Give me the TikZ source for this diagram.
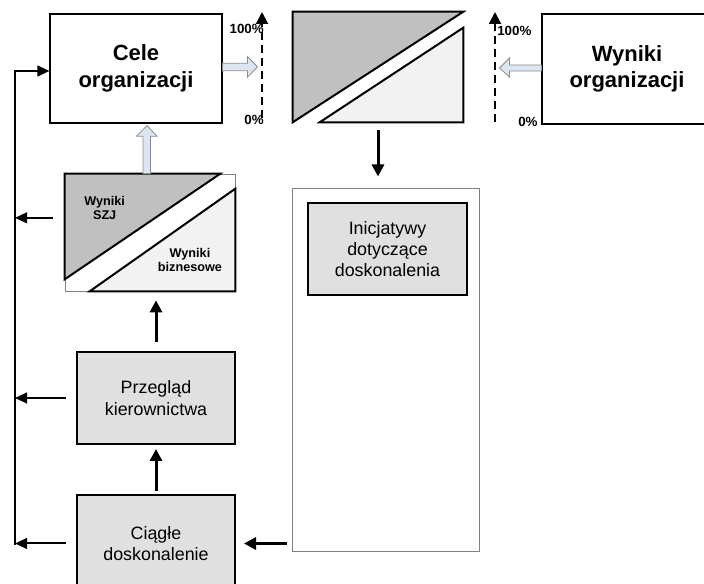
\documentclass[tikz,border=0pt]{standalone}
\usepackage{fontspec}
\setmainfont{Liberation Sans}
\usetikzlibrary{arrows.meta}
\definecolor{boxgray}{HTML}{E0E0E0}
\definecolor{darktri}{HTML}{C0C0C0}
\definecolor{lighttri}{HTML}{F2F2F2}
\definecolor{hollowfill}{HTML}{DCE6F2}
\definecolor{hollowdraw}{HTML}{8C8C8C}

\begin{document}
\begin{tikzpicture}[x=0.75pt,y=-0.75pt,
  >={Triangle[length=9pt,width=9pt]},
  goal/.style={draw,line width=0.8pt,align=center,inner sep=0pt,
    font=\fontsize{16.5}{20}\selectfont\bfseries},
  gbox/.style={draw,line width=1.5pt,fill=boxgray,align=center,inner sep=0pt,
    font=\fontsize{13.4}{16}\selectfont},
  small/.style={align=center,inner sep=0pt,font=\fontsize{9.5}{11}\selectfont\bfseries},
  pct/.style={inner sep=0pt,font=\fontsize{10}{12}\selectfont\bfseries},
  tri/.style={draw,line width=1.5pt},
  heavy/.style={->,line width=2.25pt},
  fb/.style={->,line width=1.5pt,>={Triangle[length=9pt,width=8pt]}},
  hollow/.style={draw=hollowdraw,fill=hollowfill,line width=0.6pt},
  axis/.style={->,line width=1.5pt,dash pattern=on 6pt off 3.75pt}]
\useasboundingbox (0,0) rectangle (704,584);
\clip (0,0) rectangle (704,584);
% boxes
\node[goal,minimum width=129pt,minimum height=81.75pt] (cele) at (136,68.5) {Cele\\organizacji};
\node[goal,minimum width=127.5pt,minimum height=82.5pt] (wynorg) at (627,69) {Wyniki\\organizacji};
\node[inner sep=0pt,minimum width=127.5pt,minimum height=82.5pt] (cmp) at (378,67) {};
\node[draw=gray,line width=0.5pt,inner sep=0pt,minimum width=127.5pt,minimum height=87.75pt] (szj) at (150,232.5) {};
\node[gbox,minimum width=118.5pt,minimum height=69pt] (przeglad) at (156,398) {Przegląd\\kierownictwa};
\node[gbox,minimum width=118.5pt,minimum height=72.75pt] (ciagle) at (156,543.5) {Ciągłe\\doskonalenie};
\node[draw=gray,line width=0.75pt,inner sep=0pt,minimum width=140.25pt,minimum height=272.25pt] (ramka) at (385.5,370.5) {};
\node[gbox,minimum width=119.25pt,minimum height=69pt] (inicj) at (387.5,249) {Inicjatywy\\dotyczące\\doskonalenia};
% split rectangles
\draw[tri,fill=darktri] (cmp.north west) -- (cmp.north east) -- (cmp.south west) -- cycle;
\draw[tri,fill=lighttri] ([xshift=20.25pt]cmp.south west) -- (cmp.south east) -- ([yshift=-12pt]cmp.north east) -- cycle;
\draw[tri,fill=darktri] (szj.north west) -- ([xshift=-11.25pt]szj.north east) -- ([yshift=9pt]szj.south west) -- cycle;
\draw[tri,fill=lighttri] ([xshift=18.75pt]szj.south west) -- (szj.south east) -- ([yshift=-11.25pt]szj.north east) -- cycle;
\node[small] (tszj) at ([xshift=-34pt,yshift=18.4pt]szj.center) {Wyniki\\SZJ};
\node[small] (tbiz) at ([xshift=30pt,yshift=-20.6pt]szj.center) {Wyniki\\biznesowe};
% scales
\coordinate (l0) at (262,118);
\coordinate (l1) at (262,12);
\coordinate (r0) at (495,122);
\coordinate (r1) at (495,12);
\draw[axis] (l0) -- (l1);
\draw[axis] (r0) -- (r1);
\node[pct,anchor=east] (p100l) at (264,29) {100\%};
\node[pct,anchor=east] (p0l) at (264,119.5) {0\%};
\node[pct,anchor=west] (p100r) at (497,31) {100\%};
\node[pct,anchor=west] (p0r) at (518,121.5) {0\%};
% hollow arrows
\draw[hollow] ([yshift=4pt]cele.east) -- ++(25,0) -- ++(0,-6.5) -- ++(10,10.2) -- ++(-10,10.3) -- ++(0,-6.5) -- ++(-25,0) -- cycle;
\draw[hollow] ([yshift=3pt]wynorg.west) -- ++(-32,0) -- ++(0,-7) -- ++(-10,10) -- ++(10,9) -- ++(0,-6) -- ++(32,0) -- cycle;
\draw[hollow] ([xshift=-5.25pt]szj.north) -- ++(0,-37.5) -- ++(-6.5,0) -- ++(10.5,-10.5) -- ++(10,10.5) -- ++(-6.5,0) -- ++(0,37.5) -- cycle;
% flow
\draw[heavy,shorten <=6pt,shorten >=9pt] (cmp.south) -- (cmp.south |- ramka.north);
\draw[heavy,shorten <=6.75pt,shorten >=6.75pt] (przeglad.north) -- (przeglad.north |- szj.south);
\draw[heavy,shorten <=2.25pt,shorten >=3pt] (ciagle.north) -- (ciagle.north |- przeglad.south);
\draw[heavy,shorten <=3.75pt,shorten >=6pt] (ciagle.east -| ramka.west) -- (ciagle.east);
% feedback loop
\coordinate (fbtop) at (15,71);
\coordinate (fbbot) at (15,545);
\draw[fb] (fbbot) -- (fbtop) -- (fbtop -| cele.west);
\draw[fb,shorten <=9pt] ([yshift=11pt]szj.west) -- ([yshift=11pt]szj.west -| fbtop);
\draw[fb,shorten <=7.5pt] (przeglad.west) -- (przeglad.west -| fbtop);
\draw[fb,shorten <=7.5pt] (ciagle.west) -- (ciagle.west -| fbtop);
\end{tikzpicture}
\end{document}
